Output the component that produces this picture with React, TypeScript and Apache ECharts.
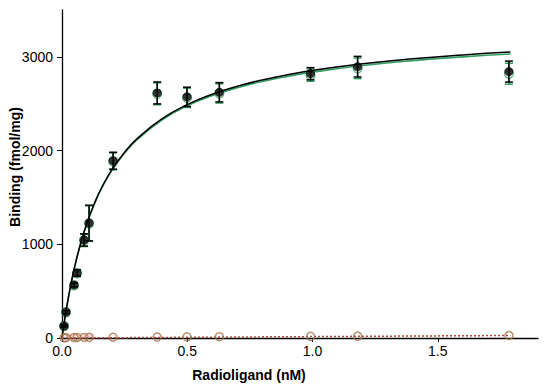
import React, { useEffect, useRef } from "react";
import * as echarts from "echarts";

// Concentrations (nM)
const conc = [0.008, 0.016, 0.048, 0.06, 0.088, 0.108, 0.204, 0.38, 0.499, 0.628, 0.992, 1.18, 1.784];
// Total binding (black) and error
const total = [128, 277, 566, 694, 1046, 1227, 1892, 2615, 2573, 2622, 2820, 2895, 2843];
const totalErr = [10, 15, 20, 35, 65, 190, 90, 117, 103, 103, 65, 110, 112];
// Specific binding (green)
const specific = [126, 275, 562, 690, 1041, 1221, 1885, 2606, 2563, 2610, 2805, 2878, 2820];
const specificErr = [10, 15, 20, 35, 65, 190, 90, 117, 103, 103, 65, 110, 112];
// Nonspecific binding (brown circles)
const nonspecific = [2, 3, 5, 5, 6, 7, 8, 10, 12, 14, 18, 20, 27];

// Fitted curves
const curveX = [0, 0.01, 0.02, 0.035, 0.05, 0.075, 0.1, 0.13, 0.16, 0.2, 0.25, 0.3, 0.4, 0.5, 0.6, 0.7, 0.8, 0.9, 1.0, 1.2, 1.4, 1.6, 1.79];
const totalCurve = [0, 184, 349, 566, 754, 1017, 1231, 1441, 1614, 1800, 1983, 2127, 2340, 2490, 2601, 2686, 2754, 2809, 2855, 2926, 2980, 3021, 3052];
const specificCurve = [0, 183, 347, 563, 750, 1012, 1225, 1434, 1606, 1791, 1973, 2116, 2328, 2477, 2587, 2671, 2738, 2792, 2837, 2907, 2960, 3000, 3030];
const nsLineX = [0, 1.79];
const nsLineY = [0, 27];

const xTicks = [0, 0.5, 1.0, 1.5];
const yTicks = [0, 1000, 2000, 3000];

const FONT = "Liberation Sans, Arial, Helvetica, sans-serif";

function errRender(color: string) {
  return (params: any, api: any) => {
    const x = api.value(0);
    const y = api.value(1);
    const e = api.value(2);
    const top = api.coord([x, y + e]);
    const bot = api.coord([x, y - e]);
    const hw = 4;
    const style = { stroke: color, lineWidth: 1.5 };
    return {
      type: "group",
      children: [
        { type: "line", shape: { x1: top[0], y1: top[1], x2: bot[0], y2: bot[1] }, style },
        { type: "line", shape: { x1: top[0] - hw, y1: top[1], x2: top[0] + hw, y2: top[1] }, style },
        { type: "line", shape: { x1: bot[0] - hw, y1: bot[1], x2: bot[0] + hw, y2: bot[1] }, style },
      ],
    };
  };
}

export default function App() {
  const ref = useRef<HTMLDivElement>(null);
  useEffect(() => {
    if (!ref.current) return;
    const chart = echarts.init(ref.current, null, { renderer: "svg" });
    const green = "#2f9e5f";
    const brown = "#a5754c";
    chart.setOption({
      animation: false,
      backgroundColor: "#ffffff",
      grid: { left: 62, right: 12, top: 10, bottom: 54, containLabel: false },
      xAxis: {
        type: "value",
        min: 0,
        max: 1.9,
        splitLine: { show: false },
        axisLine: { show: true, onZero: false, lineStyle: { color: "#000", width: 1.3 } },
        axisTick: { show: true, length: 4, customValues: xTicks, lineStyle: { color: "#000" } },
        axisLabel: {
          customValues: xTicks,
          formatter: (v: number) => v.toFixed(1),
          color: "#000",
          fontSize: 14,
          fontFamily: FONT,
          margin: 6,
        },
      },
      yAxis: {
        type: "value",
        min: 0,
        max: 3500,
        splitLine: { show: false },
        axisLine: { show: true, onZero: false, lineStyle: { color: "#000", width: 1.3 } },
        axisTick: { show: true, length: 5, customValues: yTicks, lineStyle: { color: "#000" } },
        axisLabel: {
          customValues: yTicks,
          formatter: (v: number) => String(v),
          color: "#000",
          fontSize: 14,
          fontFamily: FONT,
          margin: 9,
        },
      },
      graphic: [
        {
          type: "text",
          x: 249,
          y: 375,
          style: {
            text: "Radioligand (nM)",
            font: `bold 14px ${FONT}`,
            fill: "#000",
            textAlign: "center",
            textVerticalAlign: "middle",
          },
        },
        {
          type: "text",
          x: 15,
          y: 167,
          rotation: Math.PI / 2,
          style: {
            text: "Binding (fmol/mg)",
            font: `bold 14px ${FONT}`,
            fill: "#000",
            textAlign: "center",
            textVerticalAlign: "middle",
          },
        },
      ],
      series: [
        {
          type: "custom",
          name: "specificErr",
          renderItem: errRender(green),
          data: conc.map((x, i) => [x, specific[i], specificErr[i]]),
          z: 2,
        },
        {
          type: "line",
          name: "specificCurve",
          data: curveX.map((x, i) => [x, specificCurve[i]]),
          smooth: true,
          showSymbol: false,
          lineStyle: { color: green, width: 1.6 },
          z: 3,
        },
        {
          type: "scatter",
          name: "specific",
          data: conc.map((x, i) => [x, specific[i]]),
          symbol: "circle",
          symbolSize: 9,
          itemStyle: { color: "#fff", borderColor: green, borderWidth: 1.2 },
          z: 4,
        },
        {
          type: "line",
          name: "totalCurve",
          data: curveX.map((x, i) => [x, totalCurve[i]]),
          smooth: true,
          showSymbol: false,
          lineStyle: { color: "#000", width: 1.5 },
          z: 5,
        },
        {
          type: "custom",
          name: "totalErr",
          renderItem: errRender("#000"),
          data: conc.map((x, i) => [x, total[i], totalErr[i]]),
          z: 6,
        },
        {
          type: "scatter",
          name: "total",
          data: conc.map((x, i) => [x, total[i]]),
          symbol: "circle",
          symbolSize: 9,
          itemStyle: { color: "#000" },
          z: 7,
        },
        {
          type: "line",
          name: "nsLine",
          data: nsLineX.map((x, i) => [x, nsLineY[i]]),
          showSymbol: false,
          clip: false,
          lineStyle: { color: "#b8453a", width: 1.5, type: [2, 2] },
          markArea: {
            silent: true,
            itemStyle: { color: "rgba(255,160,180,0.35)" },
            data: [[{ xAxis: 0, yAxis: -50 }, { xAxis: 0.13, yAxis: 50 }]],
          },
          z: 8,
        },
        {
          type: "scatter",
          name: "nonspecific",
          data: conc.map((x, i) => [x, nonspecific[i]]),
          symbol: "circle",
          symbolSize: 8,
          clip: false,
          itemStyle: { color: "rgba(255,255,255,0)", borderColor: brown, borderWidth: 1.5 },
          z: 9,
        },
      ],
    });
    return () => chart.dispose();
  }, []);
  return <div ref={ref} style={{ width: 550, height: 392, position: "absolute", left: 0, top: 0 }} />;
}
